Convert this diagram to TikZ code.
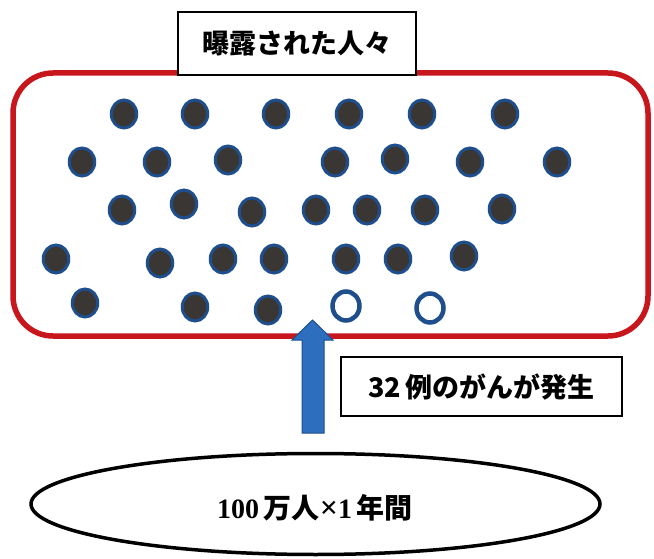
\documentclass[tikz,border=0pt]{standalone}
\usepackage{fontspec}
\newfontfamily\cjk{Noto Sans CJK JP}
\newfontfamily\serifnum{Liberation Serif}
\usetikzlibrary{shapes.geometric}
\definecolor{framered}{HTML}{C8161D}
\definecolor{dotfill}{HTML}{3A3634}
\definecolor{dotblue}{HTML}{1F4E8C}
\definecolor{arrowfill}{HTML}{2E6EBF}
\definecolor{arrowline}{HTML}{1C4F8E}
\tikzset{
  dot/.style={ellipse, minimum width=25.5pt, minimum height=28pt, inner sep=0pt,
    fill=dotfill, draw=dotblue, line width=3pt},
  opendot/.style={ellipse, minimum width=27pt, minimum height=29pt, inner sep=0pt,
    fill=white, draw=dotblue, line width=4.5pt},
  labelbox/.style={draw=black, line width=1.3pt, fill=white, inner sep=0pt},
  frame/.style={draw=framered, line width=5.5pt, rounded corners=40pt, inner sep=0pt},
}
\begin{document}
\begin{tikzpicture}[x=1pt,y=-1pt]
\useasboundingbox (0,0) rectangle (654,559);
% frame of exposed people
\node[frame, minimum width=635pt, minimum height=263pt] (frame) at (330.5,204.5) {};
% title box
\node[labelbox, minimum width=238pt, minimum height=63pt] (title) at (297,43.5)
  {\cjk\bfseries\fontsize{27}{27}\selectfont 曝露された人々};
% row 1
\node[dot] (a1) at (124,114) {};
\node[dot] (a2) at (195,114) {};
\node[dot] (a3) at (276,114) {};
\node[dot] (a4) at (349,114) {};
\node[dot] (a5) at (422,114) {};
\node[dot] (a6) at (505,114) {};
% row 2
\node[dot] (b1) at (82,162) {};
\node[dot] (b2) at (157,162) {};
\node[dot] (b3) at (228,160) {};
\node[dot] (b4) at (335,162) {};
\node[dot] (b5) at (395,159) {};
\node[dot] (b6) at (470,162) {};
\node[dot] (b7) at (557,162) {};
% row 3
\node[dot] (c1) at (122,210) {};
\node[dot] (c2) at (184,204) {};
\node[dot] (c3) at (252,212) {};
\node[dot] (c4) at (316,210) {};
\node[dot] (c5) at (367,210) {};
\node[dot] (c6) at (425,210) {};
\node[dot] (c7) at (502,209) {};
% row 4
\node[dot] (e1) at (56,259) {};
\node[dot] (e2) at (160,263) {};
\node[dot] (e3) at (223,259) {};
\node[dot] (e4) at (274,259) {};
\node[dot] (e5) at (346,259) {};
\node[dot] (e6) at (398,259) {};
\node[dot] (e7) at (464,256) {};
% row 5
\node[dot] (f1) at (85,303) {};
\node[dot] (f2) at (195,307) {};
\node[dot] (f3) at (268,310) {};
\node[opendot] (f4) at (346,306) {};
\node[opendot] (f5) at (430,308) {};
% block arrow
\draw[fill=arrowfill, draw=arrowline, line width=1pt, line join=miter]
  (302,433) -- (302,340) -- (292,340) -- (312.5,320) -- (333,340) -- (324,340) -- (324,433) -- cycle;
% cancer label
\node[labelbox, minimum width=281pt, minimum height=59pt] (cases) at (481.5,386.5)
  {\cjk\bfseries\fontsize{27}{27}\selectfont 32\,例のがんが発生};
% population ellipse
\node[ellipse, draw=black, line width=3.5pt, minimum width=569pt, minimum height=101pt, inner sep=0pt]
  (pop) at (315.5,504) {};
\node (poptext) at (315,508)
  {\cjk\bfseries\fontsize{28}{28}\selectfont{\serifnum\bfseries 100}\,万人{\serifnum\bfseries\fontsize{32}{28}\selectfont ×}{\serifnum\bfseries 1}\,年間};
\end{tikzpicture}
\end{document}
